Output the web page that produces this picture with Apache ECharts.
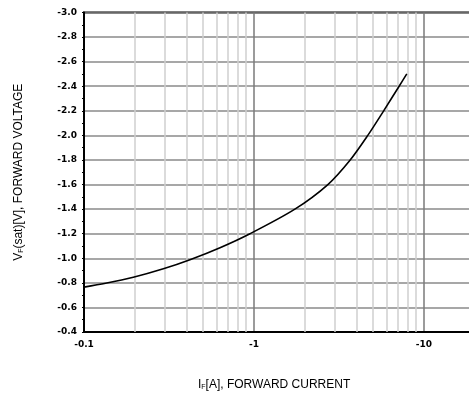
<!DOCTYPE html>
<html>
<head>
<meta charset="utf-8">
<script src="https://cdn.jsdelivr.net/npm/echarts@6/dist/echarts.min.js"></script>
<style>
html,body{margin:0;padding:0;background:#fff;}
#c{width:469px;height:398px;}
</style>
</head>
<body>
<div id="c"></div>
<script>
// Forward current I_F [A] (negative, as labelled) and forward voltage V_F(sat) [V]
const currentA = [-0.1, -0.134, -0.195, -0.293, -0.42, -0.631, -0.947, -1.74, -2.72, -3.68, -4.67, -5.79, -7.14, -7.92];
const voltageV = [-0.765, -0.796, -0.845, -0.914, -0.988, -1.086, -1.2, -1.4, -1.6, -1.8, -2.0, -2.2, -2.4, -2.5];
// minor vertical grid positions (magnitude of current)
const minorGrid = [0.2, 0.3, 0.4, 0.5, 0.6, 0.7, 0.8, 0.9, 2, 3, 4, 5, 6, 7, 8, 9, 20, 30, 40, 50, 60, 70, 80, 90];
const xRange = [0.1, 100];
const yRange = [-3.0, -0.4];
const yStep = 0.2;

const chart = echarts.init(document.getElementById('c'), null, {renderer: 'canvas'});
const tickFont = {fontFamily: 'DejaVu Sans', fontWeight: 'bold', fontSize: 9, color: '#000'};

chart.setOption({
  animation: false,
  backgroundColor: '#fff',
  grid: {left: 84, top: 12.5, width: 510, height: 319.5, outerBoundsMode: 'none', containLabel: false,
         show: true, borderColor: '#000', borderWidth: 2, backgroundColor: 'transparent'},
  xAxis: {
    type: 'log', logBase: 10, min: xRange[0], max: xRange[1],
    axisLine: {show: true, lineStyle: {color: '#000', width: 2}},
    axisTick: {show: false},
    splitLine: {show: true, lineStyle: {color: '#7a7a7a', width: 1.5}},
    axisLabel: Object.assign({margin: 8, formatter: v => '-' + parseFloat(Number(v).toPrecision(6))}, tickFont)
  },
  yAxis: {
    type: 'value', inverse: true, min: yRange[0], max: yRange[1], interval: yStep,
    axisLine: {show: true, lineStyle: {color: '#000', width: 2}},
    axisTick: {show: true, length: 2, lineStyle: {color: '#000', width: 1}},
    minorTick: {show: true, splitNumber: 2, length: 2, lineStyle: {color: '#000', width: 1}},
    splitLine: {show: true, lineStyle: {color: '#8a8a8a', width: 1.5}},
    axisLabel: Object.assign({margin: 7, formatter: v => Number(v).toFixed(1)}, tickFont),
    name: '{a|V}{s|F}{a|(sat)[V], FORWARD VOLTAGE}',
    nameLocation: 'middle', nameRotate: 90, nameGap: 59,
    nameTextStyle: {
      rich: {
        a: {fontFamily: 'Liberation Sans', fontSize: 12, color: '#000'},
        s: {fontFamily: 'Liberation Sans', fontSize: 7, color: '#000', verticalAlign: 'bottom'}
      }
    }
  },
  graphic: [{
    type: 'text', left: 198, top: 379,
    style: {
      text: '{a|I}{s|F}{a|[A], FORWARD CURRENT}',
      rich: {
        a: {fontFamily: 'Liberation Sans', fontSize: 12, fill: '#000'},
        s: {fontFamily: 'Liberation Sans', fontSize: 7, fill: '#000', verticalAlign: 'bottom'}
      }
    }
  }],
  series: [{
    type: 'line', silent: true, data: [],
    markLine: {
      silent: true, symbol: 'none', animation: false,
      label: {show: false},
      lineStyle: {color: '#cfcfcf', width: 1.5, type: 'solid'},
      data: minorGrid.map(v => ({xAxis: v}))
    },
    z: 1
  }, {
    type: 'line', smooth: 0.3, symbol: 'none', z: 5,
    lineStyle: {color: '#000', width: 1.6},
    data: currentA.map((c, i) => [Math.abs(c), voltageV[i]])
  }]
});
</script>
</body>
</html>
